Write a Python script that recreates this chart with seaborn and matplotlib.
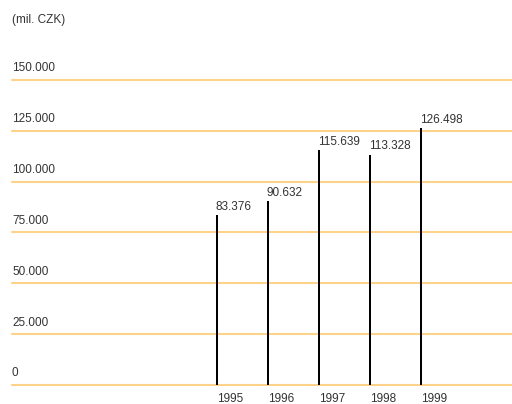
import matplotlib
matplotlib.use("Agg")
import matplotlib.pyplot as plt
import seaborn as sns
import pandas as pd
import matplotlib.transforms as mtransforms

years = ["1995", "1996", "1997", "1998", "1999"]
values = [83376, 90632, 115639, 113328, 126498]
value_labels = ["83.376", "90.632", "115.639", "113.328", "126.498"]
y_ticks = [0, 25000, 50000, 75000, 100000, 125000, 150000]
y_tick_labels = ["0", "25.000", "50.000", "75.000", "100.000", "125.000", "150.000"]
unit_label = "(mil. CZK)"

sns.set_theme(style="white")
plt.rcParams['font.family'] = ['Liberation Sans', 'DejaVu Sans']

W, H = 512, 404
fig = plt.figure(figsize=(W / 100, H / 100), dpi=100)
left_px, right_px, bottom_px, top_px = 12, 512, 385, 60
ax = fig.add_axes([left_px / W, (H - bottom_px) / H, (right_px - left_px) / W, (bottom_px - top_px) / H])

df = pd.DataFrame({"year": years, "value": values})
sns.barplot(data=df, x="year", y="value", color="black", width=0.04, ax=ax,
            saturation=1, edgecolor="none")

ymax = 150000 * (bottom_px - top_px) / (385 - 80)
ax.set_ylim(0, ymax)
spacing = 51.0
ax.set_xlim(-(217 - left_px) / spacing, 4 + (right_px - 217 - 4 * spacing) / spacing)

grid_color = "#FDD38A"
text_color = "#333333"
fs = 8.5
for t, lab in zip(y_ticks, y_tick_labels):
    ax.axhline(t, color=grid_color, lw=1.5, zorder=0, clip_on=False)
    trans = mtransforms.blended_transform_factory(ax.transAxes, ax.transData)
    ax.text(0, t, lab, transform=trans, ha="left", va="bottom", fontsize=fs,
            color=text_color)
for txt in ax.texts:
    txt.set_transform(txt.get_transform() + mtransforms.ScaledTranslation(0, 4 / 72, fig.dpi_scale_trans))

for i, (v, lab) in enumerate(zip(values, value_labels)):
    ax.annotate(lab, xy=(i, v), xytext=(-1, 1.5), textcoords="offset points",
                ha="left", va="bottom", fontsize=fs, color=text_color)

ax.set_xticks(range(len(years)))
ax.set_xticklabels(years, ha="left", fontsize=fs, color=text_color)
ax.tick_params(axis="x", length=0, pad=5.5)
ax.set_yticks([])
ax.set_xlabel("")
ax.set_ylabel("")
for s in ax.spines.values():
    s.set_visible(False)

fig.text(12 / W, 1 - 20 / H, unit_label, ha="left", va="center", fontsize=fs, color=text_color)

fig.savefig("out.png", dpi=100)
